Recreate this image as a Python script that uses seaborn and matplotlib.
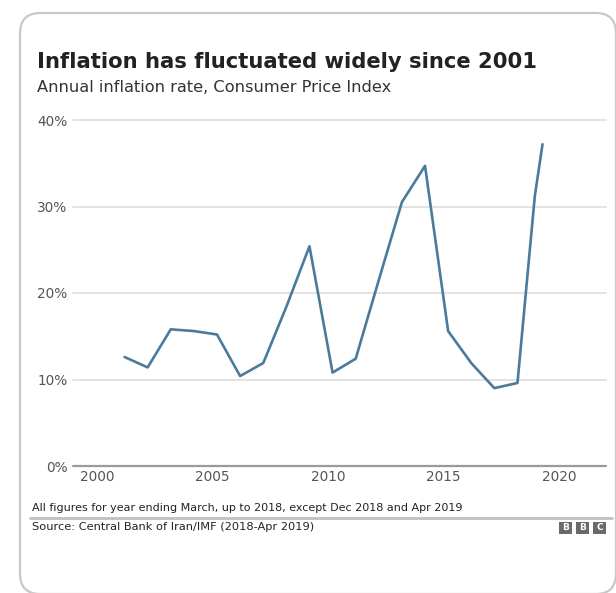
import matplotlib
matplotlib.use("Agg")
import matplotlib.pyplot as plt
from matplotlib.patches import FancyBboxPatch, Rectangle
import pandas as pd
import seaborn as sns

# Annual CPI inflation, Iran (year ending March, plus Dec 2018 and Apr 2019)
periods = ["2001-03", "2002-03", "2003-03", "2004-03", "2005-03", "2006-03",
           "2007-03", "2008-03", "2009-03", "2010-03", "2011-03", "2012-03",
           "2013-03", "2014-03", "2015-03", "2016-03", "2017-03", "2018-03",
           "2018-12", "2019-04"]
inflation = [12.6, 11.4, 15.8, 15.6, 15.2, 10.4, 11.9, 18.4, 25.4, 10.8,
             12.4, 21.5, 30.5, 34.7, 15.6, 11.9, 9.0, 9.6, 31.2, 37.2]
x_ticks = [2000, 2005, 2010, 2015, 2020]
y_ticks = [0, 10, 20, 30, 40]
y_tick_labels = ["0%", "10%", "20%", "30%", "40%"]

title = "Inflation has fluctuated widely since 2001"
subtitle = "Annual inflation rate, Consumer Price Index"
note = "All figures for year ending March, up to 2018, except Dec 2018 and Apr 2019"
source = "Source: Central Bank of Iran/IMF (2018-Apr 2019)"

# place each point at the end of its reporting month
ts = pd.to_datetime(periods)
df = pd.DataFrame({"year": ts.year + ts.month / 12.0 - 0.05,
                   "inflation": inflation})

W, H = 616, 593
sns.set_theme(style="white")
plt.rcParams["font.family"] = ["DejaVu Sans"]

fig = plt.figure(figsize=(W / 100, H / 100), dpi=100)
fig.patch.set_facecolor("white")

def fx(px):
    return px / W

def fy(py):
    return 1 - py / H

# rounded card frame behind everything
card = FancyBboxPatch((fx(20), fy(594)), fx(596), (594 - 13) / H,
                      boxstyle="round,pad=0,rounding_size=0.033",
                      transform=fig.transFigure, facecolor="white",
                      edgecolor="#c8c8c8", linewidth=1.6, zorder=-5,
                      mutation_aspect=W / H)
fig.patches.append(card)

ax = fig.add_axes([fx(73), fy(466), fx(606 - 73), (466 - 120) / H])
ax.set_zorder(2)
ax.set_facecolor("none")

sns.lineplot(data=df, x="year", y="inflation", ax=ax, color="#4a7b9d",
             linewidth=1.9, zorder=3)

ax.set_xlim(1998.97, 2022.03)
ax.set_ylim(0, 40)
ax.set_xticks(x_ticks)
ax.set_xticklabels([str(t) for t in x_ticks], fontsize=9.8, color="#555555")
ax.set_yticks(y_ticks)
ax.set_yticklabels(y_tick_labels, fontsize=9.8, color="#555555")
ax.tick_params(axis="both", length=0)
ax.tick_params(axis="x", pad=3)
ax.tick_params(axis="y", pad=4)
ax.set_xlabel("")
ax.set_ylabel("")
for s in ax.spines.values():
    s.set_visible(False)
for v in y_ticks[1:]:
    ax.axhline(v, color="#e0e0e0", linewidth=1.3, zorder=1, clip_on=False)
ax.axhline(0, color="#9a9a9a", linewidth=1.6, zorder=2, clip_on=False)

fig.text(fx(37), fy(62), title, fontsize=15.2, fontweight="bold",
         color="#222222", va="center", ha="left")
fig.text(fx(37), fy(87), subtitle, fontsize=11.7, color="#333333",
         va="center", ha="left")
fig.text(fx(32), fy(508), note, fontsize=8.05, color="#222222",
         va="center", ha="left")
fig.add_artist(plt.Line2D([fx(30), fx(612)], [fy(518), fy(518)],
                          transform=fig.transFigure, color="#c0c0c0",
                          linewidth=2.0))
fig.text(fx(32), fy(527), source, fontsize=8.2, color="#222222",
         va="center", ha="left")

# BBC blocks
for i, letter in enumerate("BBC"):
    x0 = 559 + i * 17
    fig.patches.append(Rectangle((fx(x0), fy(534)), fx(13), 12 / H,
                                 transform=fig.transFigure,
                                 facecolor="#6a6a6a", edgecolor="none"))
    fig.text(fx(x0 + 6.5), fy(528), letter, fontsize=6.5, fontweight="bold",
             color="white", ha="center", va="center")

fig.savefig("out.png", dpi=100)
